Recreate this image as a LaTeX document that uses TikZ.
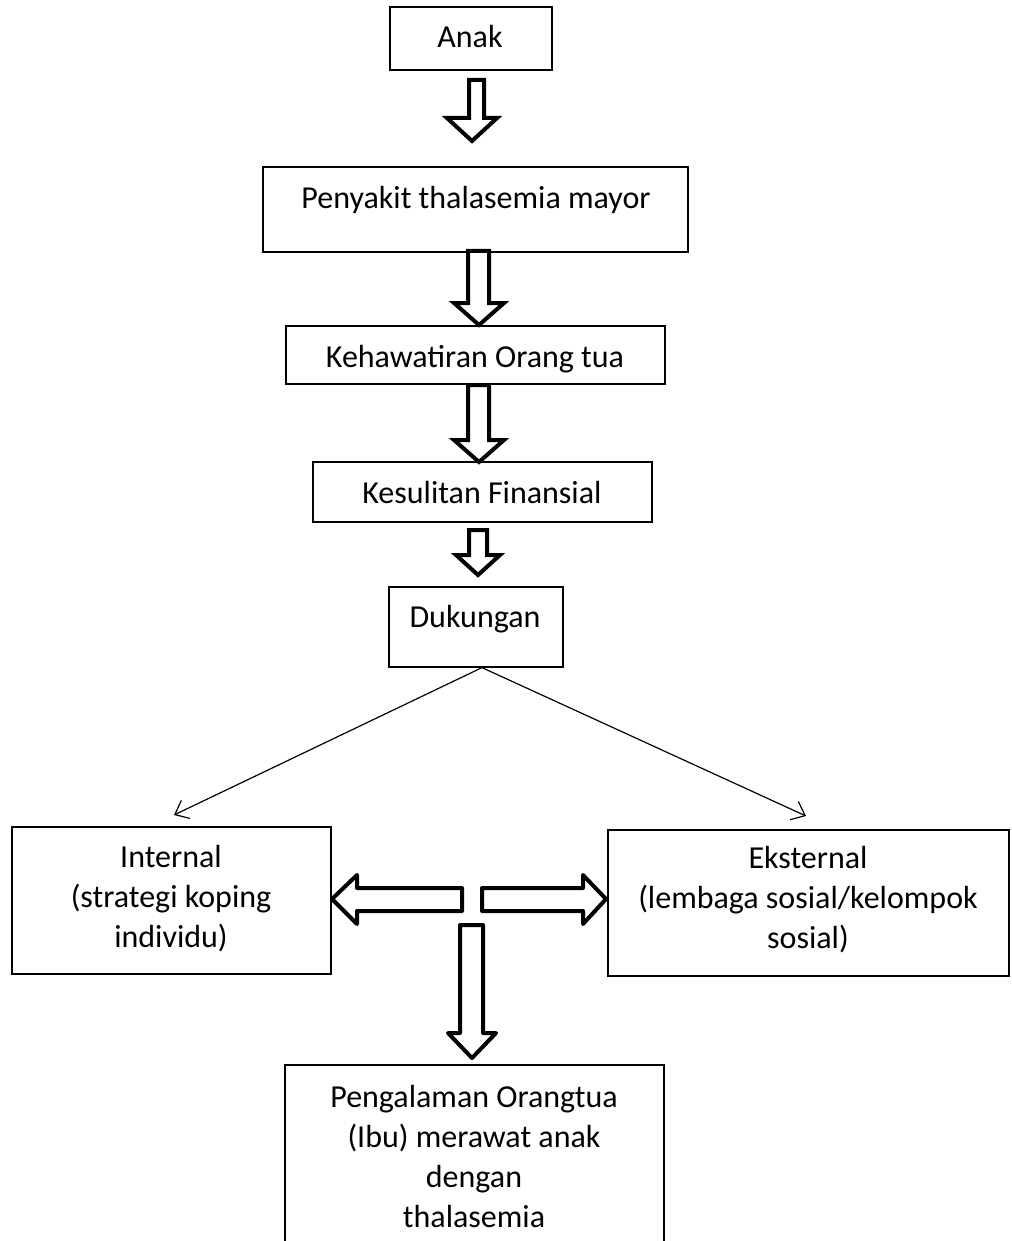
\documentclass[tikz,border=0pt]{standalone}
\usepackage{fontspec}
\setmainfont{Carlito}
\usetikzlibrary{arrows.meta}
\begin{document}
\begin{tikzpicture}[x=0.75pt,y=-0.75pt,
  box/.style={draw, line width=0.9pt, inner sep=0pt, fill=none},
  lbl/.style={font=\fontsize{24}{30}\selectfont, inner sep=0pt, align=center},
  blk/.style={draw, line width=3pt, miter limit=10},
  blkr/.style={draw, line width=3pt, line join=round},
  thin/.style={draw, line width=0.9pt, -{Straight Barb[length=9pt,width=15pt]}}]
\useasboundingbox (0,0) rectangle (1011,1241);
\clip (0,0) rectangle (1011,1241);
% boxes
\node[box, minimum width=162*0.75pt, minimum height=63*0.75pt] (anak) at (471,38.5) {};
\node[box, minimum width=425*0.75pt, minimum height=85*0.75pt] (peny) at (475.5,209.5) {};
\node[box, minimum width=379*0.75pt, minimum height=58*0.75pt] (keh) at (475.5,355) {};
\node[box, minimum width=339*0.75pt, minimum height=60*0.75pt] (kes) at (482.5,492) {};
\node[box, minimum width=174*0.75pt, minimum height=80*0.75pt] (duk) at (476,627) {};
\node[box, minimum width=319*0.75pt, minimum height=147*0.75pt] (int) at (171.5,900.5) {};
\node[box, minimum width=401*0.75pt, minimum height=146*0.75pt] (eks) at (808.5,903) {};
\node[box, minimum width=379*0.75pt, minimum height=225*0.75pt] (peng) at (474.5,1177.5) {};
% labels
\node[lbl, anchor=base] (tanak) at (470,48) {Anak};
\node[lbl, anchor=base] (tpeny) at (476,209) {Penyakit thalasemia mayor};
\node[lbl, anchor=base] (tkeh) at (475,367) {Kehawatiran Orang tua};
\node[lbl, anchor=base] (tkes) at (482,503) {Kesulitan Finansial};
\node[lbl, anchor=base] (tduk) at (475,627) {Dukungan};
\node[lbl] (tint) at (171,899) {Internal\\(strategi koping\\individu)};
\node[lbl] (teks) at (808,900) {Eksternal\\(lembaga sosial/kelompok\\sosial)};
\node[lbl] (tpeng) at (474,1156) {Pengalaman Orangtua\\(Ibu) merawat anak\\dengan\\thalasemia};
% block arrows
\draw[blk] (469,80) -- (469,118) -- (447,118) -- (472,141) -- (497,118) -- (484,118) -- (484,80) -- cycle;
\draw[blk] (468,251) -- (468,303) -- (454,303) -- (479,325) -- (504,303) -- (489,303) -- (489,251) -- cycle;
\draw[blk] (468,385) -- (468,440) -- (454,440) -- (479,462) -- (504,440) -- (489,440) -- (489,385) -- cycle;
\draw[blk] (469,530) -- (469,555) -- (456,555) -- (478,575) -- (500,555) -- (487,555) -- (487,530) -- cycle;
\draw[blkr] (462,888) -- (357,888) -- (357,875) -- (332,899) -- (357,924) -- (357,911) -- (462,911) -- cycle;
\draw[blkr] (482,888) -- (583,888) -- (583,875) -- (606,899) -- (583,924) -- (583,911) -- (482,911) -- cycle;
\draw[blkr] (460,925) -- (483,925) -- (483,1033) -- (496,1033) -- (472,1058) -- (448,1033) -- (460,1033) -- cycle;
% thin arrows
\coordinate (lt) at (174,815);
\coordinate (rt) at (806,816);
\draw[thin] ([xshift=4.5pt]duk.south) -- (lt);
\draw[thin] ([xshift=4.5pt]duk.south) -- (rt);
\end{tikzpicture}
\end{document}
